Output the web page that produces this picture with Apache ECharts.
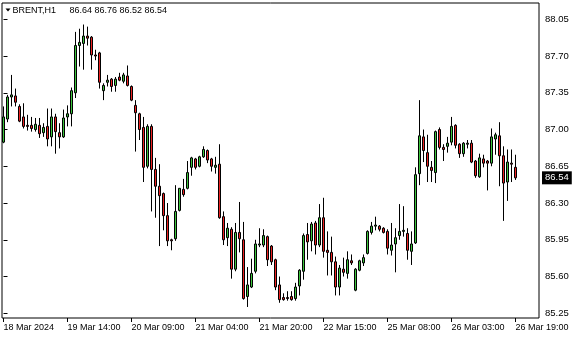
<!DOCTYPE html>
<html><head><meta charset="utf-8">
<script src="https://cdn.jsdelivr.net/npm/echarts@6/dist/echarts.min.js"></script>
<style>html,body{margin:0;padding:0;background:#fff}#c{width:580px;height:340px}</style>
</head><body><div id="c"></div>
<script>
const symbolName = 'BRENT,H1';
const opens = [
86.88,87.10,87.31,87.32,87.22,87.12,87.04,87.04,87.00,87.04,
86.97,87.03,86.93,87.12,86.97,86.93,87.12,87.15,87.35,87.80,
87.82,87.89,87.88,87.71,87.73,87.37,87.45,87.48,87.42,87.50,
87.46,87.51,87.41,87.23,87.15,87.02,86.65,87.03,86.62,86.46,
86.39,86.18,85.95,85.96,86.23,86.43,86.44,86.64,86.72,86.65,
86.74,86.80,86.72,86.64,86.67,86.17,85.97,86.05,85.67,86.02,
85.95,85.41,85.50,85.65,85.90,85.90,85.98,85.89,85.76,85.52,
85.40,85.40,85.41,85.39,85.51,85.65,86.00,85.94,86.11,85.90,
86.16,85.85,85.83,85.74,85.50,85.67,85.63,85.75,85.47,85.66,
85.73,85.82,86.02,86.08,86.08,86.06,86.03,85.85,85.91,85.99,
86.03,86.01,85.84,85.92,86.58,86.93,86.78,86.64,86.59,87.00,
86.83,86.84,86.88,87.04,86.86,86.77,86.86,86.87,86.70,86.55,
86.72,86.70,86.68,86.91,86.94,86.75,86.50,86.68,86.64];
const highs = [
87.22,87.33,87.52,87.39,87.24,87.25,87.14,87.12,87.11,87.11,
87.06,87.20,87.20,87.15,87.06,87.19,87.23,87.40,87.93,87.96,
88.00,87.98,87.89,87.76,87.74,87.44,87.52,87.49,87.50,87.54,
87.54,87.61,87.42,87.28,87.16,87.12,87.05,87.05,86.73,86.67,
86.40,86.30,85.96,86.47,86.44,86.53,86.70,86.74,86.73,86.75,
86.84,86.81,86.73,86.74,86.86,86.22,86.11,86.07,86.11,86.31,
86.12,85.69,85.77,85.95,86.06,86.05,85.99,85.90,85.77,85.60,
85.44,85.46,85.46,85.54,85.67,86.01,86.11,86.12,86.13,86.29,
86.35,86.03,85.98,85.79,85.71,85.78,85.84,85.81,85.68,85.76,
85.81,86.04,86.12,86.17,86.09,86.07,86.05,86.11,86.06,86.29,
86.27,86.06,86.03,86.64,87.28,87.00,86.95,86.70,86.99,87.02,
86.86,86.93,87.12,87.05,86.87,86.88,86.90,86.90,86.71,86.77,
86.76,86.71,87.01,86.97,87.07,86.84,86.81,86.81,86.76];
const lows = [
86.87,87.07,87.22,87.22,87.07,87.01,86.99,86.98,86.98,86.92,
86.93,86.84,86.84,86.77,86.82,86.92,87.03,87.03,87.30,87.60,
87.57,87.80,87.57,87.66,87.39,87.28,87.41,87.36,87.36,87.46,
87.44,87.41,87.27,86.79,86.90,86.50,86.63,86.22,86.16,85.89,
86.04,85.89,85.85,85.94,86.22,86.36,86.43,86.56,86.62,86.64,
86.73,86.68,86.60,86.58,86.15,85.90,85.89,85.58,85.65,85.83,
85.38,85.31,85.49,85.63,85.88,85.88,85.70,85.71,85.47,85.35,
85.37,85.37,85.37,85.37,85.42,85.57,85.76,85.84,85.81,85.88,
85.78,85.61,85.61,85.42,85.42,85.60,85.58,85.71,85.46,85.65,
85.70,85.81,86.00,86.04,86.03,86.01,85.81,85.80,85.64,85.95,
85.98,85.76,85.71,85.91,86.47,86.69,86.50,86.50,86.49,86.81,
86.70,86.78,86.85,86.82,86.73,86.74,86.82,86.68,86.54,86.54,
86.64,86.42,86.65,86.76,86.46,86.13,86.32,86.50,86.52];
const closes = [
87.12,87.31,87.33,87.26,87.08,87.03,87.03,87.01,87.05,86.96,
87.02,86.91,87.12,86.98,86.93,87.11,87.15,87.37,87.80,87.83,
87.89,87.87,87.71,87.70,87.45,87.42,87.47,87.41,87.48,87.47,
87.52,87.42,87.28,87.16,87.00,86.64,87.03,86.62,86.46,86.37,
86.18,85.94,85.94,86.22,86.44,86.38,86.59,86.73,86.64,86.74,
86.81,86.71,86.65,86.66,86.16,85.95,86.06,85.67,86.02,85.96,
85.39,85.52,85.63,85.91,85.91,85.99,85.76,85.74,85.50,85.38,
85.38,85.39,85.38,85.50,85.66,85.99,85.93,86.10,85.90,86.16,
85.84,85.83,85.74,85.50,85.68,85.64,85.76,85.73,85.67,85.75,
85.78,86.03,86.08,86.09,86.05,86.02,85.87,85.90,85.97,86.03,
86.04,85.85,85.91,86.57,86.94,86.80,86.65,86.61,86.98,86.83,
86.81,86.87,87.03,86.85,86.77,86.87,86.87,86.69,86.56,86.73,
86.68,86.68,86.93,86.95,86.75,86.49,86.69,86.67,86.54];
const tickBars = [0,16,32,48,64,80,96,112,128];
const tickLabels = ['18 Mar 2024','19 Mar 14:00','20 Mar 09:00','21 Mar 04:00','21 Mar 20:00','22 Mar 15:00','25 Mar 08:00','26 Mar 03:00','26 Mar 19:00'];
const priceTicks = [85.25,85.60,85.95,86.30,86.65,87.00,87.35,87.70,88.05];

const data = opens.map((o, i) => [i, o, closes[i], lows[i], highs[i]]);
const last = opens.length - 1;
const FONT = 'Liberation Sans';
const chart = echarts.init(document.getElementById('c'), null, {renderer: 'canvas'});
chart.setOption({
  animation: false,
  backgroundColor: '#fff',
  grid: {left: 2, right: 41, top: 3, bottom: 22, show: true, borderColor: '#000', borderWidth: 1, backgroundColor: '#fff'},
  xAxis: {
    type: 'value', min: -0.375, max: 133.875, position: 'bottom',
    axisLine: {show: false}, splitLine: {show: false},
    axisTick: {show: true, inside: false, length: 4, customValues: tickBars, lineStyle: {color: '#000'}},
    axisLabel: {customValues: tickBars, formatter: v => tickLabels[tickBars.indexOf(v)] || '', align: 'left', margin: 5, fontFamily: FONT, fontSize: 9, color: '#000'}
  },
  yAxis: {
    type: 'value', position: 'right', min: 85.205, max: 88.205,
    axisLine: {show: false}, splitLine: {show: false},
    axisTick: {show: true, length: 4, customValues: priceTicks, lineStyle: {color: '#000'}},
    axisLabel: {customValues: priceTicks, formatter: v => v.toFixed(2), margin: 6, fontFamily: FONT, fontSize: 9.5, color: '#000'}
  },
  series: [{
    type: 'candlestick', data: data, encode: {x: 0, y: [1, 2, 3, 4]}, barWidth: 2,
    itemStyle: {color: '#3cc43c', color0: '#ec2222', borderColor: '#000', borderColor0: '#000', borderWidth: 1},
    markLine: {
      silent: true, symbol: 'none', animation: false,
      lineStyle: {color: 'rgba(0,0,0,0)', width: 0},
      data: [{yAxis: closes[last]}],
      label: {position: 'end', formatter: closes[last].toFixed(2), color: '#fff', backgroundColor: '#000', padding: [2, 3, 1, 3], fontFamily: FONT, fontSize: 9.5, distance: 3}
    }
  }],
  graphic: [
    {type: 'polygon', shape: {points: [[5.5, 8.5], [10.5, 8.5], [8, 11.5]]}, style: {fill: '#000'}},
    {type: 'text', x: 12.5, y: 10.5, style: {text: symbolName, font: '9px "Liberation Sans"', fill: '#000', verticalAlign: 'middle'}},
    {type: 'text', x: 69.5, y: 10.5, style: {text: [opens[last], highs[last], lows[last], closes[last]].map(v => v.toFixed(2)).join(' '), font: '9px "Liberation Sans"', fill: '#000', verticalAlign: 'middle'}}
  ]
});
</script></body></html>
